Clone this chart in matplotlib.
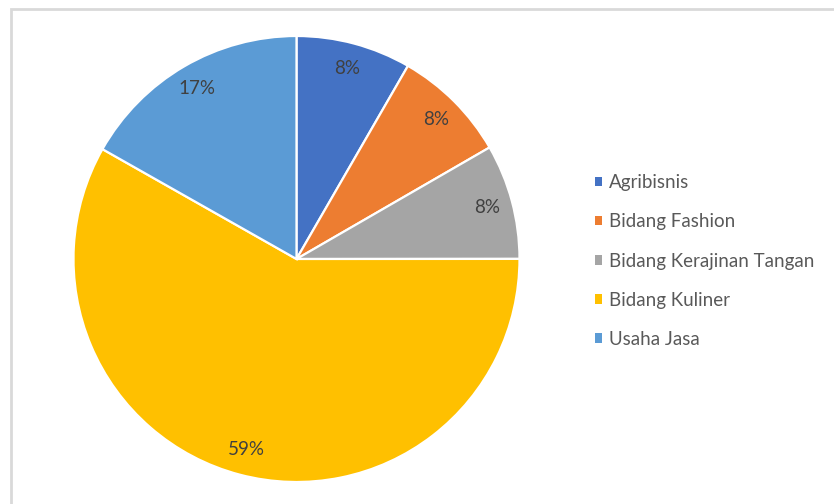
import numpy as np
import matplotlib.pyplot as plt
from matplotlib.patches import Patch, Rectangle

# data
categories = ['Agribisnis', 'Bidang Fashion', 'Bidang Kerajinan Tangan', 'Bidang Kuliner', 'Usaha Jasa']
shares = [8.33, 8.33, 8.33, 58.2, 16.8]
pct_labels = ['8%', '8%', '8%', '59%', '17%']
colors = ['#4472C4', '#ED7D31', '#A5A5A5', '#FFC000', '#5B9BD5']

plt.rcParams['font.family'] = ['Lato', 'DejaVu Sans']

fig = plt.figure(figsize=(8.34, 5.04), dpi=100)

# chart frame (only top and left edges are inside the image)
fig.patches.append(Rectangle((11 / 834, -0.1), 1.2, (504 - 9) / 504 + 0.1, transform=fig.transFigure,
                             fill=False, edgecolor='#d9d9d9', linewidth=2))

# pie centre at (296.5, 259) px, radius 223 px
r = 223
ax = fig.add_axes([(296.5 - r) / 834, (504 - 259 - r) / 504, 2 * r / 834, 2 * r / 504])
wedges, _ = ax.pie(shares, colors=colors, startangle=90, counterclock=False, radius=1,
                   wedgeprops=dict(edgecolor='white', linewidth=1.6))
ax.set_xlim(-1, 1)
ax.set_ylim(-1, 1)
ax.axis('off')

# percentage labels
for w, txt in zip(wedges, pct_labels):
    mid = np.deg2rad((w.theta1 + w.theta2) / 2)
    ax.text(0.885 * np.cos(mid), 0.885 * np.sin(mid), txt, ha='center', va='center',
            fontsize=13.5, color='#404040')

handles = [Patch(facecolor=c, edgecolor='none') for c in colors]
fig.legend(handles, categories, loc='center left', bbox_to_anchor=(578 / 834, (504 - 261) / 504),
           frameon=False, fontsize=13.5, labelcolor='#595959', handlelength=0.4, handleheight=0.4,
           handletextpad=0.37, labelspacing=1.18)

fig.savefig('out.png', dpi=100)
